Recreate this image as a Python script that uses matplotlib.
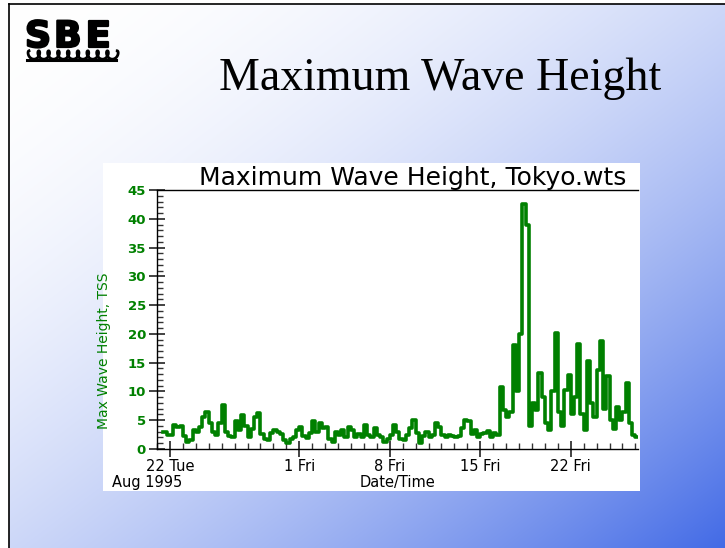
import numpy as np
import matplotlib
matplotlib.use("Agg")
import matplotlib.pyplot as plt
import matplotlib.dates as mdates
import matplotlib.patheffects as pe
from matplotlib.patches import Rectangle

# Maximum wave height, 6-hourly values starting 21 Aug 1995 12:00
start = np.datetime64("1995-08-21T12:00")
wave_height = [
    3.0, 2.5, 2.4, 4.2, 3.8, 4.0, 2.2, 1.3, 1.5, 3.3, 3.0, 3.9,
    5.6, 6.5, 4.5, 3.0, 2.4, 4.5, 7.6, 3.0, 2.2, 2.0, 4.8, 3.3,
    5.9, 4.0, 2.0, 3.5, 5.6, 6.2, 2.6, 1.8, 1.5, 2.7, 3.3, 3.0,
    2.6, 1.5, 1.0, 1.8, 2.0, 3.3, 3.9, 2.3, 1.9, 2.7, 4.8, 3.0,
    4.6, 3.6, 3.9, 1.8, 1.3, 3.0, 2.4, 3.3, 2.0, 3.9, 3.3, 2.1,
    2.6, 2.0, 4.2, 2.5, 2.0, 3.6, 2.4, 2.1, 1.3, 1.8, 2.4, 4.2,
    3.0, 1.8, 1.5, 2.4, 3.6, 5.0, 2.7, 1.0, 2.2, 2.9, 2.0, 2.5,
    4.5, 3.9, 2.4, 2.0, 2.4, 2.3, 2.0, 2.2, 3.6, 5.0, 4.8, 2.6,
    3.3, 2.0, 2.6, 2.8, 3.2, 2.0, 2.8, 2.5, 10.8, 6.8, 5.5, 6.5,
    18.0, 10.0, 20.0, 42.6, 39.0, 4.0, 8.0, 6.8, 13.2, 9.0, 4.5, 3.3,
    10.0, 20.2, 6.5, 4.0, 10.2, 12.8, 6.0, 9.0, 18.3, 6.0, 3.3, 15.3,
    8.0, 5.5, 13.7, 18.8, 7.0, 12.6, 5.0, 3.5, 7.3, 5.0, 6.5, 11.4,
    4.5, 2.5, 2.0, 2.0,
]
times = start + np.arange(len(wave_height)) * np.timedelta64(6, "h")

tick_dates = np.array(["1995-08-22", "1995-09-01", "1995-09-08",
                       "1995-09-15", "1995-09-22"], dtype="datetime64[D]")
tick_labels = ["22 Tue", "1 Fri", "8 Fri", "15 Fri", "22 Fri"]
y_ticks = list(range(0, 50, 5))

green = "#008000"
W, H = 725, 548

fig = plt.figure(figsize=(W / 100, H / 100), dpi=100)

# Slide background in pixel coordinates
bg = fig.add_axes([0, 0, 1, 1])
bg.set_xlim(0, W)
bg.set_ylim(H, 0)
bg.axis("off")
xx, yy = np.meshgrid(np.arange(W), np.arange(H))
u = np.clip(((xx - 9) / (W - 9) + (yy - 4) / (H - 4)) / 2.0, 0, 1)
t = u ** 1.9
c0 = np.array([1.0, 1.0, 1.0])
c1 = np.array([66, 106, 230]) / 255.0
img = c0[None, None, :] * (1 - t[..., None]) + c1[None, None, :] * t[..., None]
bg.imshow(img, extent=(0, W, H, 0), aspect="auto", interpolation="bilinear")
bg.add_patch(Rectangle((0, 0), 9, H, facecolor="white", edgecolor="none"))
bg.add_patch(Rectangle((0, 0), W, 4, facecolor="white", edgecolor="none"))
bg.plot([9, 9], [4, H], color="black", lw=1.2)
bg.plot([9, W], [4, 4], color="black", lw=1.2)

# Logo
heavy = [pe.withStroke(linewidth=1.6, foreground="black")]
for letter, lx in zip("SBE", [25, 54, 86]):
    bg.text(lx, 47, letter, fontsize=26, fontweight="bold", family="DejaVu Sans",
            ha="left", va="baseline", color="black", path_effects=heavy)
tt = np.linspace(0, 9 * 2 * np.pi, 900)
bg.plot(29 + 1.56 * tt - 3.0 * np.sin(tt), 55.0 - 4.2 * np.cos(tt),
        color="black", lw=2.0)
bg.plot([27, 116], [60, 60], color="black", lw=2.2)

# Slide title
bg.text(440, 90, "Maximum Wave Height", fontsize=33, family="Liberation Serif",
        ha="center", va="baseline", color="black")

# White chart panel
bg.add_patch(Rectangle((103, 163), 537, 328, facecolor="white", edgecolor="none"))

# Chart
ax = fig.add_axes([157 / W, (H - 449) / H, 481 / W, 259 / H])
ax.set_facecolor("none")
ax.step(times, wave_height, where="post", color=green, lw=2.6)
ax.set_ylim(0, 45)
ax.set_xlim(np.datetime64("1995-08-21T00:00"), np.datetime64("1995-09-27T04:48"))
ax.set_yticks(y_ticks)
ax.set_yticks(range(0, 46), minor=True)
ax.set_xticks(tick_dates, labels=tick_labels)
ax.xaxis.set_minor_locator(mdates.DayLocator())
ax.spines["right"].set_visible(False)
for s in ["left", "bottom", "top"]:
    ax.spines[s].set_linewidth(1.0)
ax.tick_params(axis="both", which="major", direction="inout", length=12,
               width=1.2, color="#222222")
ax.tick_params(axis="both", which="minor", direction="in", length=4.5,
               width=1.0, color="#333333")
ax.tick_params(axis="y", which="major", pad=2, labelsize=9.5, labelcolor=green)
ax.tick_params(axis="x", which="major", pad=1, labelsize=10.5)
for lab in ax.get_yticklabels():
    lab.set_fontweight("bold")
    lab.set_family("DejaVu Sans")
for lab in ax.get_xticklabels():
    lab.set_family("DejaVu Sans")

ax.set_ylabel("Max Wave Height, TSS", color=green, fontsize=10,
              family="DejaVu Sans")
ax.yaxis.set_label_coords(-0.096, 0.378)
ax.set_xlabel("Date/Time", fontsize=10.5, family="DejaVu Sans", labelpad=1)
ax.set_title("Maximum Wave Height, Tokyo.wts", fontsize=18,
             family="DejaVu Sans", x=0.532, pad=3)
bg.text(112, 487, "Aug 1995", fontsize=10.5, family="DejaVu Sans",
        ha="left", va="baseline")

fig.savefig("out.png", dpi=100)
